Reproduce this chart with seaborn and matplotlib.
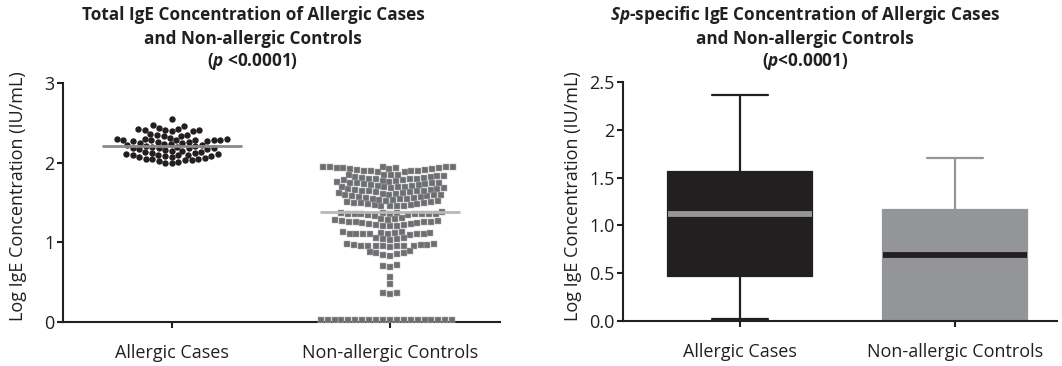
import numpy as np
import pandas as pd
import matplotlib
matplotlib.use("Agg")
import matplotlib.pyplot as plt
from matplotlib.collections import PathCollection
import seaborn as sns

# ---------------- data ----------------
categories = ["Allergic Cases", "Non-allergic Controls"]

allergic_total = [
    2.55,
    2.46, 2.47,
    2.40, 2.41, 2.41, 2.42, 2.42, 2.41, 2.40, 2.43,
    2.33, 2.34, 2.35, 2.35, 2.36,
    2.24, 2.25, 2.25, 2.26, 2.26, 2.27, 2.27, 2.28, 2.28, 2.28,
    2.29, 2.29, 2.29, 2.30, 2.30, 2.30, 2.31,
    2.12, 2.13, 2.14, 2.15, 2.15, 2.16, 2.17, 2.17, 2.18, 2.18,
    2.19, 2.19, 2.20, 2.20, 2.21, 2.21, 2.22, 2.22, 2.23,
    1.99, 2.00, 2.01, 2.02, 2.03, 2.03, 2.04, 2.05, 2.05, 2.06,
    2.07, 2.07, 2.08, 2.08, 2.09, 2.09, 2.10, 2.10, 2.11, 2.11, 2.12,
]

control_total = [
    1.93, 1.93,
    1.88, 1.88, 1.89, 1.89, 1.90, 1.90, 1.91, 1.91,
    1.92, 1.92, 1.92, 1.93, 1.93, 1.94, 1.94, 1.94, 1.95, 1.95,
    1.76, 1.76, 1.77, 1.77, 1.78, 1.78, 1.79, 1.79, 1.80, 1.80,
    1.81, 1.81, 1.82, 1.82, 1.83, 1.83, 1.84, 1.84, 1.85, 1.85,
    1.66, 1.66, 1.67, 1.67, 1.68, 1.68, 1.69, 1.69, 1.70, 1.70,
    1.71, 1.71, 1.72, 1.72, 1.73, 1.73, 1.74, 1.74, 1.75, 1.75,
    1.56, 1.56, 1.57, 1.57, 1.58, 1.58, 1.59, 1.59, 1.60, 1.60,
    1.61, 1.61, 1.62, 1.62, 1.63, 1.63, 1.64, 1.64, 1.65, 1.65,
    1.45, 1.45, 1.46, 1.46, 1.47, 1.47, 1.48, 1.48, 1.49, 1.50,
    1.50, 1.51, 1.51, 1.52, 1.52, 1.53, 1.53, 1.54, 1.54, 1.55,
    1.38,
    1.33, 1.34, 1.34, 1.35, 1.35, 1.35, 1.36, 1.36, 1.36, 1.37,
    1.37, 1.37, 1.36, 1.35,
    1.20, 1.21, 1.21, 1.22, 1.22, 1.23, 1.23, 1.24, 1.24, 1.25,
    1.25, 1.26, 1.26, 1.27, 1.27, 1.28, 1.28, 1.29, 1.29, 1.30,
    1.09, 1.10, 1.10, 1.11, 1.11, 1.11, 1.12, 1.12, 1.12, 1.13,
    1.13, 1.11, 1.10,
    1.03, 1.04, 1.04, 1.05, 1.06,
    0.94, 0.95, 0.95, 0.96, 0.96, 0.96, 0.97, 0.97, 0.97, 0.98,
    0.98, 0.95, 0.96,
    0.83, 0.84, 0.85, 0.86, 0.86, 0.88, 0.89,
    0.71, 0.70, 0.69,
    0.57,
    0.48,
    0.36, 0.36, 0.35,
    0.02, 0.02, 0.02, 0.02, 0.02, 0.02, 0.02, 0.02, 0.02, 0.02,
    0.02, 0.02, 0.02, 0.02, 0.02, 0.02, 0.02, 0.02, 0.02, 0.02,
]

# five-number summaries of the Sp-specific IgE boxes (min, Q1, median, Q3, max)
allergic_sp = [0.02, 0.47, 1.12, 1.56, 2.36]
control_sp = [0.00, 0.00, 0.69, 1.16, 1.70]

left_yticks = [0, 1, 2, 3]
right_yticks = [0.0, 0.5, 1.0, 1.5, 2.0, 2.5]
right_yticklabels = ["0.0", "0.5", "1.0", "1.5", "2", "2.5"]

ylabel = "Log IgE Concentration (IU/mL)"

# ---------------- style ----------------
sns.set_style("ticks")
ink = "#231f20"
plt.rcParams["font.family"] = ["Open Sans", "DejaVu Sans"]
plt.rcParams["mathtext.fontset"] = "custom"
plt.rcParams["mathtext.rm"] = "Open Sans:bold"
plt.rcParams["mathtext.bf"] = "Open Sans:bold"
plt.rcParams["mathtext.it"] = "Open Sans:bold:italic"
plt.rcParams["mathtext.bfit"] = "Open Sans:bold:italic"

fig = plt.figure(figsize=(10.62, 3.66), dpi=100)
axL = fig.add_axes([63 / 1062, 44 / 366, (500 - 63) / 1062, (322 - 83) / 366])
axR = fig.add_axes([623 / 1062, 45 / 366, (1057 - 623) / 1062, (321 - 82) / 366])

# ---------------- left: swarm ----------------
df_total = pd.DataFrame({
    "group": [categories[0]] * len(allergic_total) + [categories[1]] * len(control_total),
    "value": allergic_total + control_total,
})

sns.swarmplot(data=df_total[df_total.group == categories[0]], x="group", y="value",
              order=categories, color=ink, size=4.6, marker="o",
              linewidth=0, ax=axL, zorder=3)
collA = axL.collections[-1]
sns.swarmplot(data=df_total[df_total.group == categories[1]], x="group", y="value",
              order=categories, color="#6d6e71", size=4.4, marker="s",
              edgecolor="#b0b0b0", linewidth=0.35, ax=axL, zorder=3)
collC = axL.collections[-1]

med_colors = ["#8a8a8a", "#b9b9b9"]
for i, g in enumerate(categories):
    m = np.median(df_total.loc[df_total.group == g, "value"])
    axL.plot([i - 0.32, i + 0.32], [m, m], color=med_colors[i], lw=2.0, zorder=4,
             solid_capstyle="butt")

axL.set_xlim(-0.5, 1.505)
axL.set_ylim(0, 3)
axL.set_yticks(left_yticks)
axL.set_yticklabels([str(t) for t in left_yticks])

# ---------------- right: boxes ----------------
df_sp = pd.DataFrame({
    "group": [categories[0]] * len(allergic_sp) + [categories[1]] * len(control_sp),
    "value": allergic_sp + control_sp,
})

gray = "#939598"
sns.boxplot(data=df_sp[df_sp.group == categories[0]], x="group", y="value", order=categories,
            color=ink, saturation=1, width=0.67, whis=(0, 100), linewidth=1.6,
            boxprops=dict(facecolor=ink, edgecolor=ink),
            medianprops=dict(color=gray, linewidth=4.2),
            whiskerprops=dict(color=ink, linewidth=1.6),
            capprops=dict(color=ink, linewidth=1.6),
            capwidths=0.26, showfliers=False, ax=axR)
sns.boxplot(data=df_sp[df_sp.group == categories[1]], x="group", y="value", order=categories,
            color=gray, saturation=1, width=0.67, whis=(0, 100), linewidth=1.6,
            boxprops=dict(facecolor=gray, edgecolor=gray),
            medianprops=dict(color=ink, linewidth=4.2),
            whiskerprops=dict(color=gray, linewidth=1.6),
            capprops=dict(color=gray, linewidth=1.6),
            capwidths=0.26, showfliers=False, ax=axR)

axR.set_xlim(-0.545, 1.475)
axR.set_ylim(0, 2.5)
axR.set_yticks(right_yticks)
axR.set_yticklabels(right_yticklabels)

# ---------------- axes cosmetics ----------------
fs = 13
for ax in (axL, axR):
    sns.despine(ax=ax)
    for s in ("left", "bottom"):
        ax.spines[s].set_linewidth(1.5)
        ax.spines[s].set_color(ink)
    ax.tick_params(axis="both", length=4, width=1.5, color=ink, labelcolor=ink,
                   labelsize=fs, direction="out")
    ax.tick_params(axis="x", pad=12)
    ax.tick_params(axis="y", pad=2)
    ax.set_xlabel("")
    ax.set_ylabel("")

fig.text(18 / 1062, 1 - 196 / 366, ylabel, rotation=90, ha="center", va="center",
         fontsize=fs, color=ink)
fig.text(573 / 1062, 1 - 196 / 366, ylabel, rotation=90, ha="center", va="center",
         fontsize=fs, color=ink)

tkw = dict(ha="center", va="center", fontsize=12.3, fontweight="bold", color=ink)
fig.text(253 / 1062, 1 - 15 / 366, "Total IgE Concentration of Allergic Cases", **tkw)
fig.text(253 / 1062, 1 - 39 / 366, "and Non-allergic Controls", **tkw)
fig.text(253 / 1062, 1 - 62 / 366, r"($\mathbfit{p}$ <0.0001)", **tkw)

fig.text(805 / 1062, 1 - 15 / 366, r"$\mathbfit{Sp}$-specific IgE Concentration of Allergic Cases", **tkw)
fig.text(805 / 1062, 1 - 39 / 366, "and Non-allergic Controls", **tkw)
fig.text(805 / 1062, 1 - 62 / 366, r"($\mathbfit{p}$<0.0001)", **tkw)

# compute the swarm layout once, then draw the markers slightly larger so that
# neighbouring points merge into bands as in the original figure
fig.canvas.draw()
for coll, disp in ((collA, 5.6), (collC, 5.0)):
    coll.draw = (lambda renderer, c=coll: PathCollection.draw(c, renderer))
    coll.set_sizes([disp ** 2])

fig.savefig("out.png", dpi=100)
